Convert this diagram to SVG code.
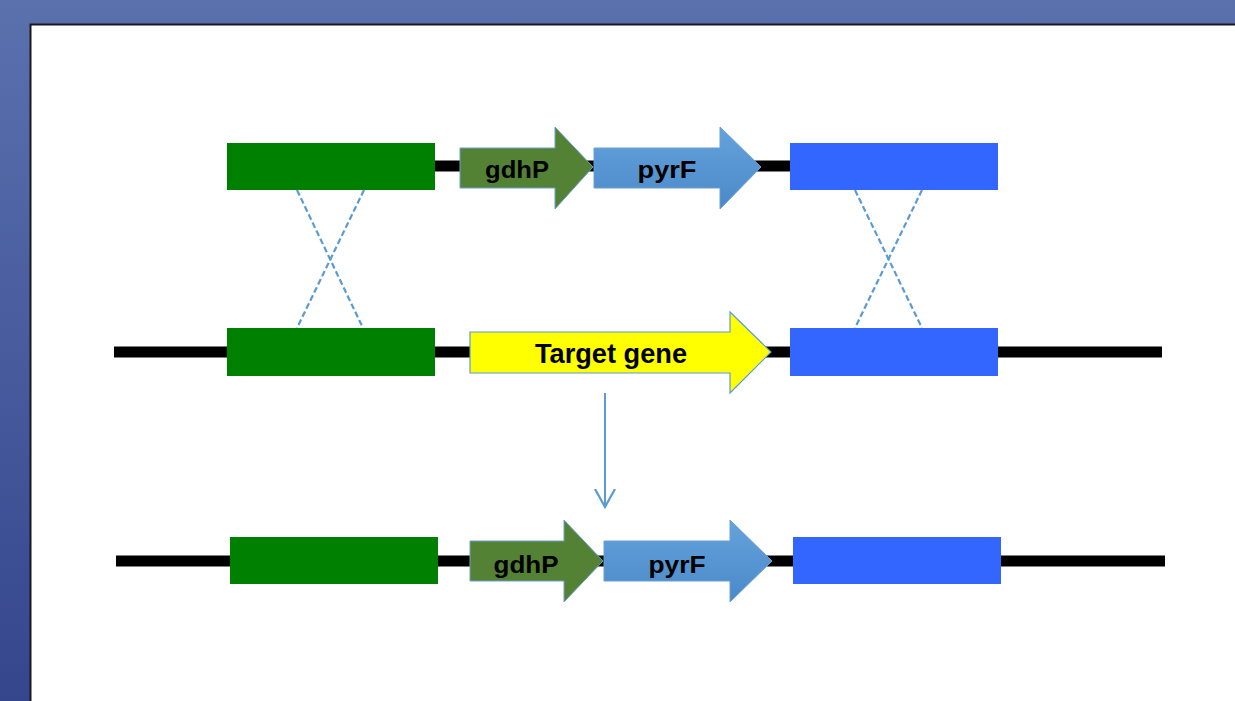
<svg xmlns="http://www.w3.org/2000/svg" width="1235" height="701" viewBox="0 0 1235 701">
<defs>
<linearGradient id="bg" x1="0" y1="0" x2="0" y2="1">
<stop offset="0" stop-color="#5b71ae"/>
<stop offset="1" stop-color="#35468d"/>
</linearGradient>
<linearGradient id="blueArrow" x1="0" y1="0" x2="0" y2="1">
<stop offset="0" stop-color="#65a3dd"/>
<stop offset="1" stop-color="#4a88c8"/>
</linearGradient>
<marker id="vhead" viewBox="0 0 20 24" refX="18" refY="12" markerWidth="20" markerHeight="24" markerUnits="userSpaceOnUse" orient="auto">
<path d="M0,2 L18,12 L0,22" fill="none" stroke="#5b9bd5" stroke-width="2.2"/>
</marker>
</defs>
<style>
.dna{stroke:#000;stroke-width:11;fill:none}
.green{fill:#008000}
.blue{fill:#3366ff}
.gdh{fill:#548235;stroke:#6a9fd0;stroke-width:1}
.pyr{fill:url(#blueArrow);stroke:#6a9fd0;stroke-width:1}
.tgt{fill:#ffff00;stroke:#5b9bd5;stroke-width:1.2}
.lbl{font-family:"Liberation Sans",Arial,sans-serif;font-weight:bold;fill:#000;text-anchor:middle}
.cross{stroke:#5b9bd5;stroke-width:2.2;stroke-dasharray:6,3;fill:none}
</style>
<rect x="0" y="0" width="1235" height="701" fill="url(#bg)"/>
<rect x="30.5" y="24.5" width="1210" height="690" fill="#ffffff" stroke="#1a1a1a" stroke-width="2"/>

<g id="connectors">
<line class="dna" x1="435" y1="166" x2="790" y2="166"/>
<line class="dna" x1="114" y1="352" x2="1162" y2="352"/>
<line class="dna" x1="116" y1="561" x2="1165" y2="561"/>
<line class="cross" x1="297" y1="190" x2="363" y2="328"/>
<line class="cross" x1="364" y1="190" x2="297" y2="328"/>
<line class="cross" x1="855" y1="190" x2="922" y2="328"/>
<line class="cross" x1="922" y1="190" x2="855" y2="328"/>
<line x1="605" y1="393" x2="605" y2="507" stroke="#5b9bd5" stroke-width="2" marker-end="url(#vhead)"/>
</g>

<g id="donor-left"><rect class="green" x="227" y="143" width="208" height="47"/></g>
<g id="donor-right"><rect class="blue" x="790" y="143" width="208" height="47"/></g>
<g id="donor-gdhP">
<polygon class="gdh" points="460,148 555,148 555,127 593,167 555,209 555,188 460,188"/>
<text class="lbl" x="517" y="178" font-size="24" textLength="64" lengthAdjust="spacingAndGlyphs">gdhP</text>
</g>
<g id="donor-pyrF">
<polygon class="pyr" points="594,148 720,148 720,127 761,167 720,209 720,188 594,188"/>
<text class="lbl" x="667" y="178" font-size="24" textLength="59" lengthAdjust="spacingAndGlyphs">pyrF</text>
</g>

<g id="chrom-left"><rect class="green" x="227" y="328" width="208" height="48"/></g>
<g id="chrom-right"><rect class="blue" x="790" y="328" width="208" height="48"/></g>
<g id="target-gene">
<polygon class="tgt" points="470,332 730,332 730,312 771,352 730,393 730,373 470,373"/>
<text class="lbl" x="611" y="363" font-size="27" textLength="152" lengthAdjust="spacingAndGlyphs">Target gene</text>
</g>

<g id="result-left"><rect class="green" x="230" y="537" width="208" height="47"/></g>
<g id="result-right"><rect class="blue" x="793" y="537" width="208" height="47"/></g>
<g id="result-gdhP">
<polygon class="gdh" points="470,541 564,541 564,520 603,561 564,602 564,581 470,581"/>
<text class="lbl" x="526" y="573" font-size="24" textLength="65" lengthAdjust="spacingAndGlyphs">gdhP</text>
</g>
<g id="result-pyrF">
<polygon class="pyr" points="604,541 730,541 730,520 772,561 730,602 730,581 604,581"/>
<text class="lbl" x="677" y="573" font-size="24" textLength="57" lengthAdjust="spacingAndGlyphs">pyrF</text>
</g>
</svg>
